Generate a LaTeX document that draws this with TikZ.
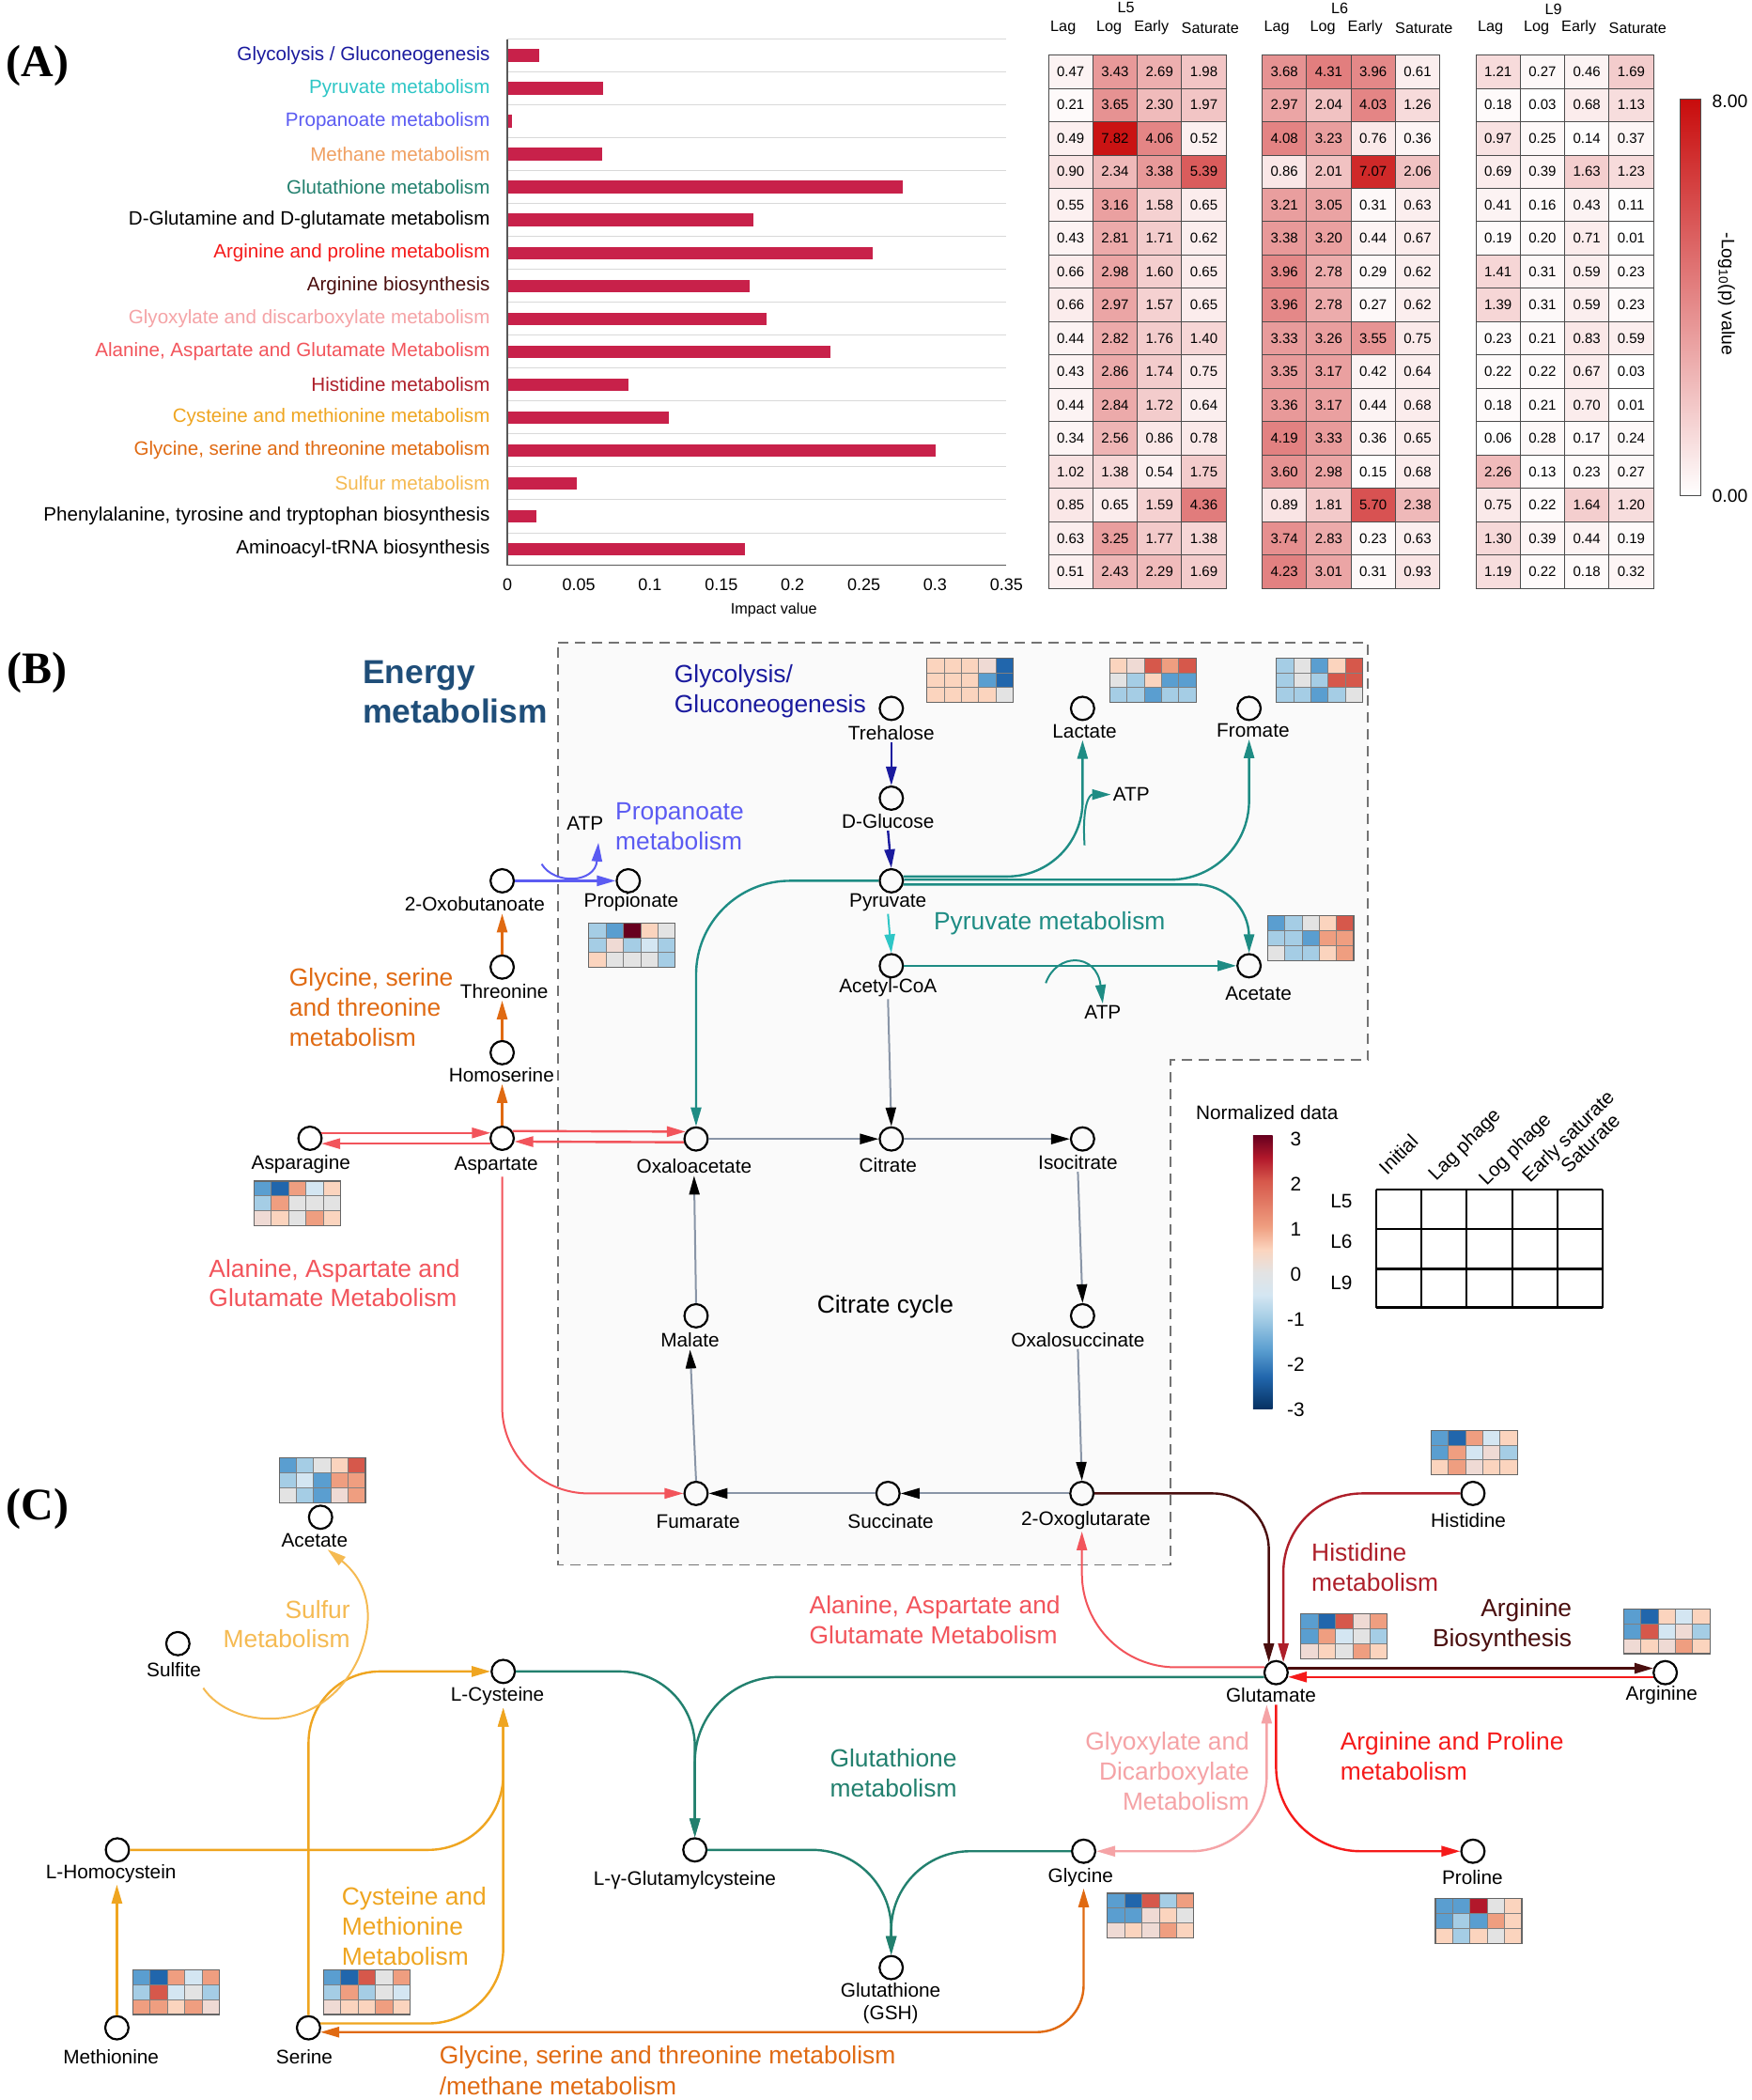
\documentclass[tikz,border=0pt]{standalone}
\usepackage{fontspec}
\setmainfont{Liberation Sans}
\newfontfamily\serifbf{Liberation Serif}
\usetikzlibrary{arrows.meta}

% pathway colours
\definecolor{cGly}{HTML}{1A1A9E}
\definecolor{cPyr}{HTML}{2EC6C6}
\definecolor{cPro}{HTML}{5B5BF2}
\definecolor{cMet}{HTML}{F0A062}
\definecolor{cGsh}{HTML}{22806E}
\definecolor{cArp}{HTML}{F51A1A}
\definecolor{cArb}{HTML}{4A0E0E}
\definecolor{cGlx}{HTML}{F5A3A6}
\definecolor{cAla}{HTML}{F2545B}
\definecolor{cHis}{HTML}{AE1F2A}
\definecolor{cCys}{HTML}{EFA520}
\definecolor{cGst}{HTML}{E06A12}
\definecolor{cSul}{HTML}{F5BA52}
\definecolor{cTeal}{HTML}{1E8C84}
\definecolor{cTca}{HTML}{8995A7}
\definecolor{cEng}{HTML}{1F4E79}
\definecolor{cBar}{HTML}{C8214A}
\definecolor{hmA}{RGB}{200,12,12}
% mini heat map colours
\definecolor{mcN}{HTML}{053061}
\definecolor{mcB}{HTML}{2166AC}
\definecolor{mcm}{HTML}{5A9ED0}
\definecolor{mcb}{HTML}{A5CDE5}
\definecolor{mcc}{HTML}{D4E6F2}
\definecolor{mcg}{HTML}{E3E3E3}
\definecolor{mcq}{HTML}{EFDAD4}
\definecolor{mcp}{HTML}{FBD4BE}
\definecolor{mcs}{HTML}{EF9E80}
\definecolor{mcr}{HTML}{D6584B}
\definecolor{mcR}{HTML}{B2182B}
\definecolor{mcD}{HTML}{67001F}

% the path is fitted into the middle half of the shading
\pgfdeclareverticalshading{rdbu}{100bp}{color(0bp)=(mcN); color(25bp)=(mcN);
  color(30.85bp)=(mcB); color(35.85bp)=(mcm); color(41.65bp)=(mcb); color(45.85bp)=(mcc);
  color(50bp)=(mcg); color(54.15bp)=(mcp); color(58.35bp)=(mcs); color(66.65bp)=(mcr);
  color(70.85bp)=(mcR); color(75bp)=(mcD); color(100bp)=(mcD)}

% 3x5 heat map beside a metabolite
\newcommand{\minimap}[3]{%
  \foreach \cl [count=\kk from 0] in {#3} {
    \pgfmathtruncatemacro\cc{mod(\kk,5)}
    \pgfmathtruncatemacro\rr{floor(\kk/5)}
    \filldraw[fill=mc\cl, draw=black!50, line width=0.4pt]
      ({#1+12.92*\cc},{#2+11.1*\rr}) rectangle ++(12.92,11.1);
  }
  \draw[black!60, line width=0.6pt] (#1,#2) rectangle ++(64.6,33.3);
}

\begin{document}
\begin{tikzpicture}[x=0.712pt, y=-0.712pt,
  >={Triangle[length=10pt,width=5.5pt]},
  panel/.style={font=\serifbf\bfseries\fontsize{24}{28}\selectfont, inner sep=0pt},
  alab/.style={font=\fontsize{10.3}{12}\selectfont, inner sep=0pt, anchor=east},
  hnum/.style={font=\fontsize{7.5}{9}\selectfont, inner sep=0pt},
  hhead/.style={font=\fontsize{8.1}{9}\selectfont, inner sep=0pt},
  tick/.style={font=\fontsize{9}{10}\selectfont, inner sep=0pt},
  cbl/.style={font=\fontsize{9.7}{11}\selectfont, inner sep=0pt},
  met/.style={circle, draw, line width=1.1pt, minimum size=12.4pt, inner sep=0pt},
  mlab/.style={font=\fontsize{10.4}{12}\selectfont, inner sep=1pt},
  plab/.style={font=\fontsize{13.2}{15.9}\selectfont, inner sep=0pt, align=left, anchor=west},
  lgd/.style={font=\fontsize{10.4}{12}\selectfont, inner sep=0pt},
  arr/.style={line width=1.2pt, ->},
  darr/.style={line width=1.2pt, <->},
  tca/.style={line width=1pt, draw=cTca, -{Triangle[length=10pt,width=5.5pt,color=black]}}
]
\useasboundingbox (0,0) rectangle (1310,1570);
\fill[white] (0,0) rectangle (1310,1570);

\node[panel] (pa) at (28,49) {(A)};
\node[panel] (pb) at (28,503) {(B)};
\node[panel] (pc) at (28,1128) {(C)};

% ---------- (A) impact bars
\foreach \ii in {0,...,15}
  \draw[black!15, line width=0.5pt] (379.5,{29.3+24.6*\ii}) -- (752.5,{29.3+24.6*\ii});
\foreach \lab/\col/\val [count=\ii from 0] in {
  {Glycolysis / Gluconeogenesis}/cGly/0.0223,
  {Pyruvate metabolism}/cPyr/0.0669,
  {Propanoate metabolism}/cPro/0.0028,
  {Methane metabolism}/cMet/0.0665,
  {Glutathione metabolism}/cGsh/0.2775,
  {D-Glutamine and D-glutamate metabolism}/black/0.1724,
  {Arginine and proline metabolism}/cArp/0.2561,
  {Arginine biosynthesis}/cArb/0.1697,
  {Glyoxylate and discarboxylate metabolism}/cGlx/0.1817,
  {Alanine, Aspartate and Glutamate Metabolism}/cAla/0.2264,
  {Histidine metabolism}/cHis/0.0846,
  {Cysteine and methionine metabolism}/cCys/0.1134,
  {Glycine, serine and threonine metabolism}/cGst/0.3003,
  {Sulfur metabolism}/cSul/0.0488,
  {Phenylalanine, tyrosine and tryptophan biosynthesis}/black/0.0200,
  {Aminoacyl-tRNA biosynthesis}/black/0.1669} {
  \fill[cBar] (379.5,{41.6+24.6*\ii-4.8}) rectangle ({379.5+1065.7*\val},{41.6+24.6*\ii+4.8});
  \node[alab, text=\col] (pw\ii) at (366.6,{41.6+24.6*\ii}) {\lab};
}
\draw[black!65, line width=0.8pt] (379.5,29.3) -- (379.5,422.5) -- (752.5,422.5);
\foreach \t [count=\jj from 0] in {0,0.05,0.1,0.15,0.2,0.25,0.3,0.35}
  \node[tick] (tk\jj) at ({379.5+53.29*\jj},437.4) {\t};
\node[hhead] (ximp) at (578.6,456) {Impact value};

% ---------- (A) -log10(p) table
\foreach \bx/\ln/\ly [count=\bb from 0] in {784/L5/5.7, 943.8/L6/6, 1103.6/L9/7.2} {
  \node[hhead] (blk\bb) at (\bx+58,\ly) {\ln};
  \node[hhead] (hlag\bb) at (\bx+11,20.7) {Lag};
  \node[hhead] (hlog\bb) at (\bx+45.3,20.7) {Log};
  \node[hhead] (hear\bb) at (\bx+77,20.7) {Early};
  \node[hhead] (hsat\bb) at (\bx+121,20.7) {Saturate};
}
\foreach \row [count=\ri from 0] in {
  {0.47,3.43,2.69,1.98,3.68,4.31,3.96,0.61,1.21,0.27,0.46,1.69},
  {0.21,3.65,2.30,1.97,2.97,2.04,4.03,1.26,0.18,0.03,0.68,1.13},
  {0.49,7.82,4.06,0.52,4.08,3.23,0.76,0.36,0.97,0.25,0.14,0.37},
  {0.90,2.34,3.38,5.39,0.86,2.01,7.07,2.06,0.69,0.39,1.63,1.23},
  {0.55,3.16,1.58,0.65,3.21,3.05,0.31,0.63,0.41,0.16,0.43,0.11},
  {0.43,2.81,1.71,0.62,3.38,3.20,0.44,0.67,0.19,0.20,0.71,0.01},
  {0.66,2.98,1.60,0.65,3.96,2.78,0.29,0.62,1.41,0.31,0.59,0.23},
  {0.66,2.97,1.57,0.65,3.96,2.78,0.27,0.62,1.39,0.31,0.59,0.23},
  {0.44,2.82,1.76,1.40,3.33,3.26,3.55,0.75,0.23,0.21,0.83,0.59},
  {0.43,2.86,1.74,0.75,3.35,3.17,0.42,0.64,0.22,0.22,0.67,0.03},
  {0.44,2.84,1.72,0.64,3.36,3.17,0.44,0.68,0.18,0.21,0.70,0.01},
  {0.34,2.56,0.86,0.78,4.19,3.33,0.36,0.65,0.06,0.28,0.17,0.24},
  {1.02,1.38,0.54,1.75,3.60,2.98,0.15,0.68,2.26,0.13,0.23,0.27},
  {0.85,0.65,1.59,4.36,0.89,1.81,5.70,2.38,0.75,0.22,1.64,1.20},
  {0.63,3.25,1.77,1.38,3.74,2.83,0.23,0.63,1.30,0.39,0.44,0.19},
  {0.51,2.43,2.29,1.69,4.23,3.01,0.31,0.93,1.19,0.22,0.18,0.32}} {
  \foreach \v [count=\ci from 0] in \row {
    \pgfmathsetmacro\hx{784+159.8*floor(\ci/4)+33.2*mod(\ci,4)}
    \pgfmathsetmacro\hy{41.1+24.92*\ri}
    \pgfmathtruncatemacro\pc{\v*12.5}
    \filldraw[fill=hmA!\pc!white, draw=black!70, line width=0.4pt] (\hx,\hy) rectangle ++(33.2,24.92);
    \node[hnum] (hv\ri-\ci) at ({\hx+16.6},{\hy+12.46}) {\v};
  }
}
\shade[top color=hmA, bottom color=white] (1256.6,74) rectangle (1272,370.6);
\draw[black!70, line width=0.5pt] (1256.6,74) rectangle (1272,370.6);
\node[cbl, anchor=west] (cbtop) at (1280,76) {8.00};
\node[cbl, anchor=west] (cbbot) at (1280,371) {0.00};
\node[cbl, rotate=-90] (cbname) at (1291,219.8) {-Log\textsubscript{10}(p) value};

% ---------- (B) energy metabolism box
\draw[fill=black!2, draw=black!55, line width=0.9pt, dash pattern=on 5.5pt off 3.5pt]
  (417.5,480.7) -- (1023,480.7) -- (1023,792.6) -- (875,792.6) -- (875,1170) -- (417.5,1170) -- cycle;

% mini heat maps
\minimap{693}{491.8}{p,p,p,q,B,p,p,p,m,B,p,p,p,p,g}
\minimap{829.7}{491.8}{p,q,r,s,r,g,b,p,m,m,b,b,m,b,b}
\minimap{954.3}{491.8}{b,g,m,p,r,b,g,b,r,r,b,b,m,b,g}
\minimap{947.7}{684.8}{m,b,g,p,r,b,b,m,s,s,g,b,b,p,s}
\minimap{440.3}{690}{b,m,D,p,g,b,q,b,c,b,p,g,g,g,b}
\minimap{190}{883}{m,B,s,c,p,b,s,g,g,g,q,p,g,s,p}
\minimap{208.7}{1090}{m,b,g,p,r,b,c,m,s,s,g,b,m,q,s}
\minimap{1070}{1069.3}{m,B,s,c,p,m,s,c,q,b,p,s,q,p,p}
\minimap{972.8}{1206.7}{m,B,r,q,s,m,s,c,g,b,q,p,g,s,p}
\minimap{1214}{1203}{m,B,p,c,p,m,r,c,q,b,q,p,q,s,p}
\minimap{828}{1415.4}{m,B,r,b,s,m,m,q,p,g,q,p,q,s,p}
\minimap{1073.3}{1419.5}{m,m,R,g,p,m,b,m,s,p,p,b,p,g,p}
\minimap{99.4}{1472.8}{m,B,s,c,s,b,r,c,g,b,s,s,p,s,q}
\minimap{241.9}{1472.8}{m,B,r,g,s,b,s,b,g,c,q,p,p,s,p}

% metabolites
\node[met] (tre) at (666.5,529.6) {};  \node[mlab] (trel) at (666.5,548) {Trehalose};
\node[met] (glc) at (666.5,596.7) {};  \node[mlab] (glcl) at (664,614) {D-Glucose};
\node[met] (pyr) at (666.5,658.5) {};  \node[mlab] (pyrl) at (664,675) {Pyruvate};
\node[met] (acc) at (666.5,722) {};    \node[mlab] (accl) at (664,738.5) {Acetyl-CoA};
\node[met] (lac) at (809.5,529.6) {};  \node[mlab] (lacl) at (811,546.5) {Lactate};
\node[met] (frm) at (934,529.6) {};    \node[mlab] (frml) at (937,546) {Fromate};
\node[met] (acea) at (934,722) {};     \node[mlab] (aceal) at (941,742.5) {Acetate};
\node[met] (oxb) at (375.5,658.5) {};  \node[mlab] (oxbl) at (355,676) {2-Oxobutanoate};
\node[met] (ppa) at (469.8,658.5) {};  \node[mlab] (ppal) at (472,674.5) {Propionate};
\node[met] (thr) at (375.5,723) {};    \node[mlab] (thrl) at (377,741) {Threonine};
\node[met] (hom) at (375.5,787) {};    \node[mlab] (homl) at (375,803.5) {Homoserine};
\node[met] (asn) at (231.8,851) {};    \node[mlab] (asnl) at (225,870.5) {Asparagine};
\node[met] (asp) at (375.5,851) {};    \node[mlab] (aspl) at (371,871.5) {Aspartate};
\node[met] (oxa) at (520.5,851.5) {};  \node[mlab] (oxal) at (519,872) {Oxaloacetate};
\node[met] (cit) at (666.5,851.5) {};  \node[mlab] (citl) at (664,871) {Citrate};
\node[met] (ico) at (809.5,851.5) {};  \node[mlab] (icol) at (806,869) {Isocitrate};
\node[met] (osu) at (809.5,983.7) {};  \node[mlab] (osul) at (806,1001.5) {Oxalosuccinate};
\node[met] (mal) at (520.5,983.7) {};  \node[mlab] (mall) at (516,1002) {Malate};
\node[met] (fum) at (520.5,1116.5) {}; \node[mlab] (fuml) at (522,1137.5) {Fumarate};
\node[met] (suc) at (664,1116.5) {};   \node[mlab] (sucl) at (666,1137.5) {Succinate};
\node[met] (oxg) at (809,1116.5) {};   \node[mlab] (oxgl) at (812,1136.5) {2-Oxoglutarate};
\node[met] (his) at (1101.4,1116.5) {};\node[mlab] (hisl) at (1098,1136.5) {Histidine};
\node[met] (glu) at (954.2,1250.5) {}; \node[mlab] (glul) at (950.4,1267.5) {Glutamate};
\node[met] (arg) at (1245.2,1250.5) {};\node[mlab] (argl) at (1242.5,1267.5) {Arginine};
\node[met] (acec) at (239.7,1134.3) {};\node[mlab] (acecl) at (235.2,1151.6) {Acetate};
\node[met] (sul) at (133,1228.8) {};   \node[mlab] (sull) at (130,1248.3) {Sulfite};
\node[met] (cys) at (376.3,1249.6) {}; \node[mlab] (cysl) at (372,1268.3) {L-Cysteine};
\node[met] (hcy) at (87.8,1383) {};    \node[mlab] (hcyl) at (83,1400.5) {L-Homocystein};
\node[met] (gc) at (519.6,1383) {};    \node[mlab] (gcl) at (512,1405.5) {L-γ-Glutamylcysteine};
\node[met] (gly) at (810.3,1384) {};   \node[mlab] (glyl) at (808,1403.3) {Glycine};
\node[met] (pro) at (1101.4,1384) {};  \node[mlab] (prol) at (1101,1403.3) {Proline};
\node[met] (gsh) at (666.4,1471) {};   \node[mlab, align=center] (gshl) at (666,1498) {Glutathione\\(GSH)};
\node[met] (met) at (87.4,1516) {};    \node[mlab] (metl) at (83,1538) {Methionine};
\node[met] (ser) at (230.7,1516) {};   \node[mlab] (serl) at (227.6,1538) {Serine};

% ATP and loop end points
\node[mlab] (atp0) at (437.5,615.6) {ATP};
\node[mlab] (atp1) at (846,594) {ATP};
\node[mlab] (atp2) at (824.6,757) {ATP};
\coordinate (atp0s) at (405,646);
\coordinate (atp0e) at (447.5,630);
\coordinate (atp1s) at (811,632);
\coordinate (atp2s) at (782,735);
\coordinate (sulS) at (152,1262);

% glycolysis
\draw[arr, cGly] (trel.south) -- (glc.north);
\draw[arr, cGly] (glcl.south) -- (pyr.north);
\draw[arr, cPyr, line width=1pt] (pyrl.south) -- (acc.north);
% citrate cycle
\draw[tca] (accl.south) -- (cit.north);
\draw[tca] (oxa.east) -- (cit.west);
\draw[tca] (cit.east) -- (ico.west);
\draw[tca] (icol.south) -- (osu.north);
\draw[tca] (osul.south) -- (oxg.north);
\draw[tca] (oxg.west) -- (suc.east);
\draw[tca] (suc.west) -- (fum.east);
\draw[tca] (fum.north) -- (mall.south);
\draw[tca] (mal.north) -- (oxal.south);
% pyruvate metabolism
\draw[arr, cTeal, rounded corners=50pt] (pyr.west) -| (oxa.north);
\draw[arr, cTeal, rounded corners=40pt] (pyr.20) -| (lac |- lacl.south);
\draw[arr, cTeal, rounded corners=42pt] (pyr.5) -| (frm |- frml.south);
\draw[arr, cTeal, rounded corners=28pt] (pyr.-17) -| (acea.north);
\draw[arr, cTeal] (acc.east) -- (acea.west);
\draw[arr, cTeal, line width=1pt] (atp1s) .. controls (809,600) and (815,594) .. (atp1.west);
\draw[arr, cTeal, line width=1pt] (atp2s) .. controls (790,712) and (820,712) .. (atp2.north);
% propanoate
\draw[arr, cPro] (oxb.east) -- (ppa.west);
\draw[arr, cPro, line width=1pt] (atp0s) .. controls (415,662) and (445,660) .. (atp0e);
% glycine, serine and threonine
\draw[arr, cGst] (asp.north) -- (asp |- homl.south);
\draw[arr, cGst] (hom.north) -- (hom |- thrl.south);
\draw[arr, cGst] (thr.north) -- (thr |- oxbl.south);
% alanine, aspartate and glutamate
\draw[arr, cAla] (asn.25) -- (asp.155);
\draw[arr, cAla] (asp.-155) -- (asn.-25);
\draw[arr, cAla] (asp.35) -- (oxa.145);
\draw[arr, cAla] (oxa.-165) -- (asp.-15);
\draw[arr, cAla, line width=1pt, rounded corners=46pt] (asp |- aspl.south) |- (fum.west);
\draw[arr, cAla, line width=1pt, rounded corners=50pt] (glu.155) -| (oxg |- oxgl.south);
% glutamate links
\draw[arr, cArb, rounded corners=30pt] (oxg.east) -| (glu.125);
\draw[arr, cHis, rounded corners=42pt] (his.west) -| (glu.55);
\draw[arr, cArb] (glu.20) -- (arg.160);
\draw[arr, cArp] (arg.-160) -- (glu.-20);
\draw[arr, cArp, rounded corners=45pt] (glu |- glul.south) |- (pro.west);
\draw[darr, cGlx, rounded corners=40pt] (gly.east) -| ([xshift=-5pt]glu |- glul.south);
% glutathione
\draw[arr, cGsh, rounded corners=40pt] (cys.east) -| (gc.north);
\draw[arr, cGsh, rounded corners=45pt] (glu.-160) -| (gc.north);
\draw[arr, cGsh, rounded corners=42pt] (gc.east) -| (gsh.north);
\draw[arr, cGsh, rounded corners=42pt] (gly.west) -| (gsh.north);
% cysteine, methionine, serine
\draw[darr, cGst, rounded corners=25pt] (ser.-20) -| (gly |- glyl.south);
\draw[arr, cCys, rounded corners=40pt] (hcy.east) -| (cys |- cysl.south);
\draw[arr, cCys, rounded corners=40pt] (ser.20) -| (cys |- cysl.south);
\draw[arr, cCys, rounded corners=38pt] (ser.north) |- (cys.west);
\draw[arr, cCys] (met.north) -- (met |- hcyl.south);
\draw[arr, cSul, line width=1pt] (sulS) .. controls (172,1292) and (240,1300) .. (268,1240)
  .. controls (283,1205) and (272,1180) .. (acecl.-35);

% pathway names
\node[font=\bfseries\fontsize{17.7}{20.9}\selectfont, text=cEng, align=left, anchor=west, inner sep=0pt]
  (eng) at (271,517.4) {Energy\\metabolism};
\node[plab, text=cGly] (tglyco) at (504,516.8) {Glycolysis/\\Gluconeogenesis};
\node[plab, text=cPro] (tprop) at (460,618) {Propanoate\\metabolism};
\node[plab, text=cTeal] (tpyr) at (698,690.5) {Pyruvate metabolism};
\node[plab, text=cGst] (tgst) at (216,753) {Glycine, serine\\and threonine\\metabolism};
\node[plab, text=cAla] (tala) at (156,959.3) {Alanine, Aspartate and\\Glutamate Metabolism};
\node[plab, anchor=center] (ttca) at (662,977) {Citrate cycle};
\node[plab, text=cHis] (this) at (980.5,1171.5) {Histidine\\metabolism};
\node[plab, text=cArb, align=right, anchor=east] (targ) at (1175.6,1214.8) {Arginine\\Biosynthesis};
\node[plab, text=cAla] (tala2) at (605,1210.8) {Alanine, Aspartate and\\Glutamate Metabolism};
\node[plab, text=cGsh] (tgsh) at (620.4,1325.4) {Glutathione\\metabolism};
\node[plab, text=cGlx, align=right, anchor=east] (tglx) at (934.5,1324.2) {Glyoxylate and\\Dicarboxylate\\Metabolism};
\node[plab, text=cArp] (tapr) at (1002,1312.9) {Arginine and Proline\\metabolism};
\node[plab, text=cSul, align=right, anchor=east] (tsul) at (262,1214.3) {Sulfur\\Metabolism};
\node[plab, text=cCys] (tcys) at (255.3,1440) {Cysteine and\\Methionine\\Metabolism};
\node[plab, text=cGst, font=\fontsize{13.2}{16.7}\selectfont] (tgst2) at (328.4,1547.8)
  {Glycine, serine and threonine metabolism\\/methane metabolism};

% legend
\node[lgd] (lgname) at (947.5,832) {Normalized data};
\shade[shading=rdbu] (937,848.7) rectangle (951.5,1053.6);
\foreach \t [count=\jj from 0] in {3,2,1,0,-1,-2,-3}
  \node[lgd] (lt\jj) at (969,{851.8+33.7*\jj}) {\t};
\foreach \gx in {1029,1062.7,1096.7,1130.7,1164.6,1198.4}
  \draw[line width=1.1pt] (\gx,889.2) -- (\gx,977.5);
\foreach \gy in {889.2,919,948.7,977.5}
  \draw[line width=1.1pt] (1029,\gy) -- (1198.4,\gy);
\node[lgd] (lg5) at (1003,897.7) {L5};
\node[lgd] (lg6) at (1003,928) {L6};
\node[lgd] (lg9) at (1003,958.8) {L9};
\node[lgd, rotate=45, anchor=base west] (lhini) at (1037,879) {Initial};
\node[lgd, rotate=45, anchor=base west] (lhlag) at (1073.8,883.7) {Lag phage};
\node[lgd, rotate=45, anchor=base west] (lhlog) at (1111.5,887) {Log phage};
\node[lgd, rotate=45, anchor=base west] (lhear) at (1144,885) {Early saturate};
\node[lgd, rotate=45, anchor=base west] (lhsat) at (1173,878) {Saturate};
\end{tikzpicture}
\end{document}
